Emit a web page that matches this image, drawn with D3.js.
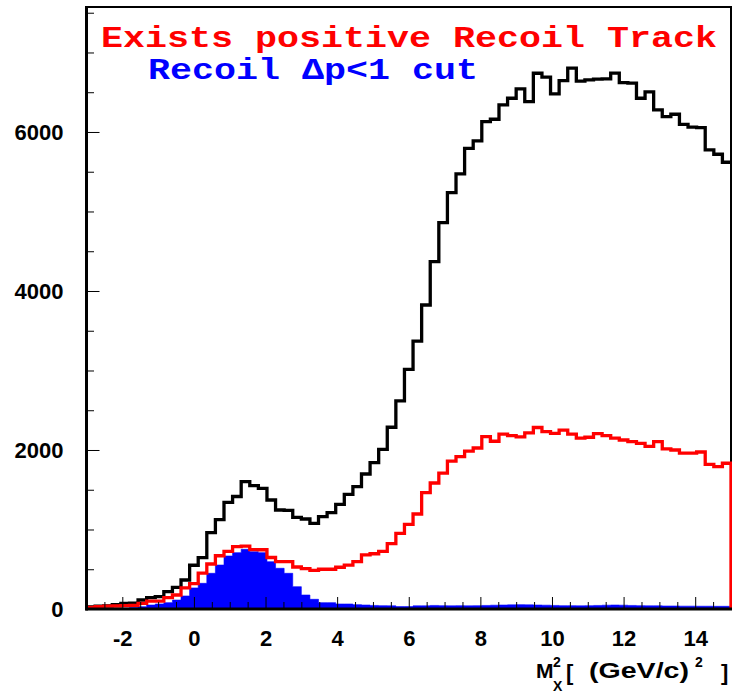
<!DOCTYPE html>
<meta charset="utf-8">
<head>
  <meta charset="utf-8">
  <script src="https://d3js.org/d3.v7.min.js"></script>
  <style>
    body { margin: 0; background: #fff; }
    .ax text { font-family: "Liberation Sans", Arial, Helvetica, sans-serif; font-weight: bold; font-size: 22px; fill: #000; }
    .ax line { stroke: #000; stroke-width: 1; }
  </style>
</head>
<body>
<svg width="737" height="697"></svg>
<script>
// histogram: 75 bins of 0.24 from -3 to 15
var xLo = -3, xHi = 15, binW = 0.24;

var blackCounts = [25, 35, 40, 55, 71, 75, 113, 142, 155, 218, 273, 365, 550, 645, 960,
  1125, 1342, 1415, 1602, 1551, 1518, 1371, 1245, 1240, 1153, 1132, 1078, 1161, 1212, 1317,
  1443, 1539, 1698, 1840, 2009, 2286, 2617, 3015, 3370, 3824, 4369, 4860, 5237, 5472, 5795,
  5887, 6130, 6160, 6340, 6424, 6542, 6382, 6739, 6690, 6480, 6645, 6802, 6640, 6655, 6665,
  6667, 6740, 6620, 6615, 6424, 6505, 6277, 6193, 6223, 6095, 6060, 6055, 5775, 5720, 5619];

var redCounts = [20, 30, 35, 38, 42, 45, 71, 100, 100, 142, 176, 265, 320, 450, 566,
  670, 725, 784, 790, 748, 745, 648, 595, 595, 528, 508, 485, 500, 500, 525,
  553, 595, 680, 695, 725, 822, 952, 1065, 1195, 1465, 1585, 1710, 1860, 1916, 1985,
  2025, 2168, 2110, 2200, 2180, 2165, 2215, 2283, 2231, 2210, 2250, 2200, 2150, 2160, 2205,
  2180, 2150, 2126, 2105, 2084, 2045, 2105, 2013, 2000, 1960, 1960, 1975, 1820, 1790, 1833];

var blueCounts = [0, 2, 4, 6, 10, 18, 29, 50, 63, 80, 113, 164, 265, 323, 449,
  553, 667, 709, 751, 721, 709, 595, 512, 449, 281, 176, 122, 80, 80, 63,
  63, 55, 50, 45, 42, 40, 30, 30, 40, 40, 45, 42, 40, 42, 40,
  42, 45, 48, 50, 52, 55, 52, 50, 48, 45, 42, 42, 40, 42, 45,
  48, 50, 48, 45, 42, 40, 40, 38, 38, 36, 36, 35, 35, 34, 34];

var xMajor = [-2, 0, 2, 4, 6, 8, 10, 12, 14];
var yMajor = [0, 2000, 4000, 6000];

var svg = d3.select("svg");
var pLeft = 86.5, pRight = 731, pTop = 7, pBottom = 609;

var x = d3.scaleLinear().domain([xLo, xHi]).range([pLeft, pRight]);
var y = d3.scaleLinear().domain([0, 7572]).range([pBottom, pTop]);

svg.append("defs").append("clipPath").attr("id", "plot")
  .append("rect").attr("x", pLeft).attr("y", pTop).attr("width", pRight - pLeft + 1).attr("height", pBottom - pTop);

// frame (top/right), drawn under the histograms
svg.append("rect").attr("x", pLeft).attr("y", pTop).attr("width", pRight - pLeft).attr("height", pBottom - pTop)
  .attr("fill", "none").attr("stroke", "#000").attr("stroke-width", 2);

function pts(counts) {
  var p = counts.map(function(v, i) { return [xLo + i * binW, v]; });
  p.push([xHi, counts[counts.length - 1]]);
  return p;
}

var g = svg.append("g").attr("clip-path", "url(#plot)");

// blue filled histogram
g.append("path")
  .datum(pts(blueCounts))
  .attr("d", d3.area().curve(d3.curveStepAfter)
    .x(function(d) { return x(d[0]); })
    .y0(y(0))
    .y1(function(d) { return y(d[1]); }))
  .attr("fill", "#0000ff").attr("stroke", "#0000ff").attr("stroke-width", 0.6);

function stepLine(counts, color, closeRight) {
  var p = pts(counts);
  p.unshift([xLo, 0]);
  if (closeRight) p.push([xHi, 0]);
  g.append("path")
    .datum(p)
    .attr("d", d3.line().curve(d3.curveStepAfter)
      .x(function(d) { return x(d[0]); })
      .y(function(d) { return y(d[1]); }))
    .attr("fill", "none").attr("stroke", color).attr("stroke-width", 3.3)
    .attr("stroke-linejoin", "miter");
}
stepLine(blackCounts, "#000000", false);
stepLine(redCounts, "#ff0000", true);

// axes
var xMinor = d3.range(-2.5, 15, 0.5).filter(function(v) { return v % 2 !== 0; });
var yMinor = d3.range(500, 7572, 500).filter(function(v) { return v % 2000 !== 0; });

svg.append("g").attr("class", "ax").attr("transform", "translate(0," + pBottom + ")")
  .call(d3.axisBottom(x).tickValues(xMinor).tickSize(-7).tickFormat(""));
svg.append("g").attr("class", "ax").attr("transform", "translate(0," + pBottom + ")")
  .call(d3.axisBottom(x).tickValues(xMajor).tickSize(-12).tickPadding(21)
    .tickFormat(function(d) { return String(d); }));
svg.append("g").attr("class", "ax").attr("transform", "translate(" + pLeft + ",0)")
  .call(d3.axisLeft(y).tickValues(yMinor).tickSize(-7.5).tickFormat(""));
svg.append("g").attr("class", "ax").attr("transform", "translate(" + pLeft + ",0)")
  .call(d3.axisLeft(y).tickValues(yMajor).tickSize(-13).tickPadding(23)
    .tickFormat(function(d) { return String(d); }));
svg.selectAll(".ax .domain").remove();

// thick left and bottom axis lines
svg.append("line").attr("x1", pLeft).attr("x2", pLeft).attr("y1", pTop - 1).attr("y2", pBottom + 1.5)
  .attr("stroke", "#000").attr("stroke-width", 3);
svg.append("line").attr("x1", pLeft - 1).attr("x2", pRight + 1).attr("y1", pBottom).attr("y2", pBottom)
  .attr("stroke", "#000").attr("stroke-width", 3);

// axis title
var tf = "'Liberation Sans', Arial, Helvetica, sans-serif";
function lab(tx, ty, s, size) {
  return svg.append("text").attr("x", tx).attr("y", ty).text(s)
    .attr("font-family", tf).attr("font-weight", "bold").attr("font-size", size)
    .attr("fill", "#000");
}
lab(536, 678, "M", 21);
lab(553, 667, "2", 14);
lab(553, 691, "X", 14);
lab(566, 680, "[", 22);
lab(589, 678, "(GeV/c)", 22).attr("textLength", 100).attr("lengthAdjust", "spacingAndGlyphs");
lab(695, 667, "2", 14);
lab(721, 680, "]", 22);

// legend lines
var mono = "'Courier New', 'Liberation Mono', monospace";
svg.append("text").attr("x", 101).attr("y", 47).text("Exists positive Recoil Track")
  .attr("font-family", mono).attr("font-weight", "bold").attr("font-size", 29)
  .attr("fill", "#ff0000").attr("textLength", 616).attr("lengthAdjust", "spacingAndGlyphs");
svg.append("text").attr("x", 148).attr("y", 79).text("Recoil \u0394p<1 cut")
  .attr("font-family", mono).attr("font-weight", "bold").attr("font-size", 29)
  .attr("fill", "#0000ff").attr("textLength", 330).attr("lengthAdjust", "spacingAndGlyphs");
</script>
</body>
